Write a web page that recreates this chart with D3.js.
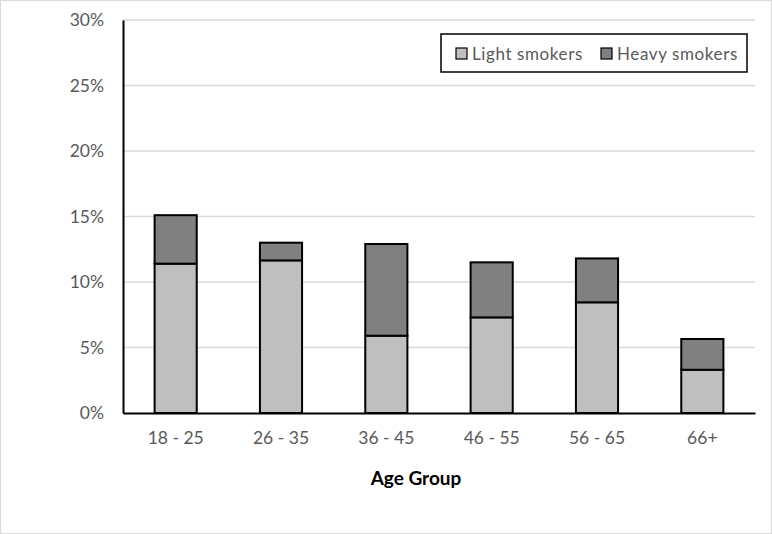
<!DOCTYPE html>
<html lang="en">
<head>
<meta charset="UTF-8">
<title>Smokers by age group</title>
<script src="https://cdn.jsdelivr.net/npm/d3@7"></script>
<style>
  body { margin: 0; background: #fff; }
  text { font-family: Lato, "Open Sans", sans-serif; }
</style>
</head>
<body>
<script>
// data (percent)
var ageGroups = ["18 - 25", "26 - 35", "36 - 45", "46 - 55", "56 - 65", "66+"];
var lightSmokers = [11.4, 11.65, 5.9, 7.3, 8.45, 3.3];
var heavySmokers = [3.7, 1.35, 7.0, 4.2, 3.35, 2.35];
var seriesNames = ["Light smokers", "Heavy smokers"];
var seriesColors = ["#bfbfbf", "#808080"];
var yTicks = [0, 5, 10, 15, 20, 25, 30];

var width = 772, height = 534;
var margin = { left: 123, right: 17, top: 20, bottom: 121 };

var svg = d3.select("body").append("svg")
    .attr("width", width)
    .attr("height", height);

// outer frame
svg.append("rect")
    .attr("x", 0.5).attr("y", 0.5)
    .attr("width", width - 1).attr("height", height - 1)
    .attr("fill", "#fff").attr("stroke", "#d9d9d9");

var x = d3.scaleBand()
    .domain(ageGroups)
    .range([margin.left, width - margin.right])
    .paddingInner(0.6)
    .paddingOuter(0.3);

var y = d3.scaleLinear()
    .domain([0, 30])
    .range([height - margin.bottom, margin.top]);

// gridlines
svg.append("g")
    .selectAll("line")
    .data(yTicks.slice(1))
    .enter().append("line")
    .attr("x1", margin.left).attr("x2", width - margin.right)
    .attr("y1", d => y(d)).attr("y2", d => y(d))
    .attr("stroke", "#d9d9d9").attr("stroke-width", 1.5);

// stacked bars
var rows = ageGroups.map((g, i) => ({ group: g, light: lightSmokers[i], heavy: heavySmokers[i] }));
var stack = d3.stack().keys(["light", "heavy"])(rows);

svg.append("g")
    .selectAll("g")
    .data(stack)
    .enter().append("g")
    .attr("fill", (d, i) => seriesColors[i])
    .selectAll("rect")
    .data(d => d)
    .enter().append("rect")
    .attr("x", d => x(d.data.group))
    .attr("width", x.bandwidth())
    .attr("y", d => y(d[1]))
    .attr("height", d => y(d[0]) - y(d[1]))
    .attr("stroke", "#000").attr("stroke-width", 2);

// y axis
var yAxis = d3.axisLeft(y).tickValues(yTicks).tickFormat(d => d + "%").tickSize(0).tickPadding(19);
var yg = svg.append("g")
    .attr("transform", "translate(" + margin.left + ",0)")
    .call(yAxis);
yg.select(".domain").attr("stroke", "#000").attr("stroke-width", 2);
yg.selectAll("text").attr("fill", "#595959").style("font-size", "17.5px");

// x axis
var xAxis = d3.axisBottom(x).tickSize(0).tickPadding(19);
var xg = svg.append("g")
    .attr("transform", "translate(0," + (height - margin.bottom) + ")")
    .call(xAxis);
xg.select(".domain").attr("stroke", "#000").attr("stroke-width", 2);
xg.selectAll("text").attr("fill", "#595959").style("font-size", "17.5px");

// axis title (sits a little left of the plot centre in the original)
svg.append("text")
    .attr("x", 416)
    .attr("y", 485)
    .attr("text-anchor", "middle")
    .style("font-size", "19px")
    .style("font-weight", "bold")
    .attr("fill", "#000")
    .text("Age Group");

// legend
var legend = svg.append("g");
legend.append("rect")
    .attr("x", 441).attr("y", 34)
    .attr("width", 306).attr("height", 38)
    .attr("fill", "#fff").attr("stroke", "#000").attr("stroke-width", 1.5);

var legendX = [456, 601];
var items = legend.selectAll("g.item")
    .data(seriesNames)
    .enter().append("g")
    .attr("class", "item")
    .attr("transform", (d, i) => "translate(" + legendX[i] + ",48)");
items.append("rect")
    .attr("width", 11).attr("height", 11)
    .attr("fill", (d, i) => seriesColors[i])
    .attr("stroke", "#000").attr("stroke-width", 1.2);
items.append("text")
    .attr("x", 16).attr("y", 11.5)
    .attr("fill", "#595959")
    .style("font-size", "17px")
    .style("letter-spacing", "0.6px")
    .text(d => d);
</script>
</body>
</html>
